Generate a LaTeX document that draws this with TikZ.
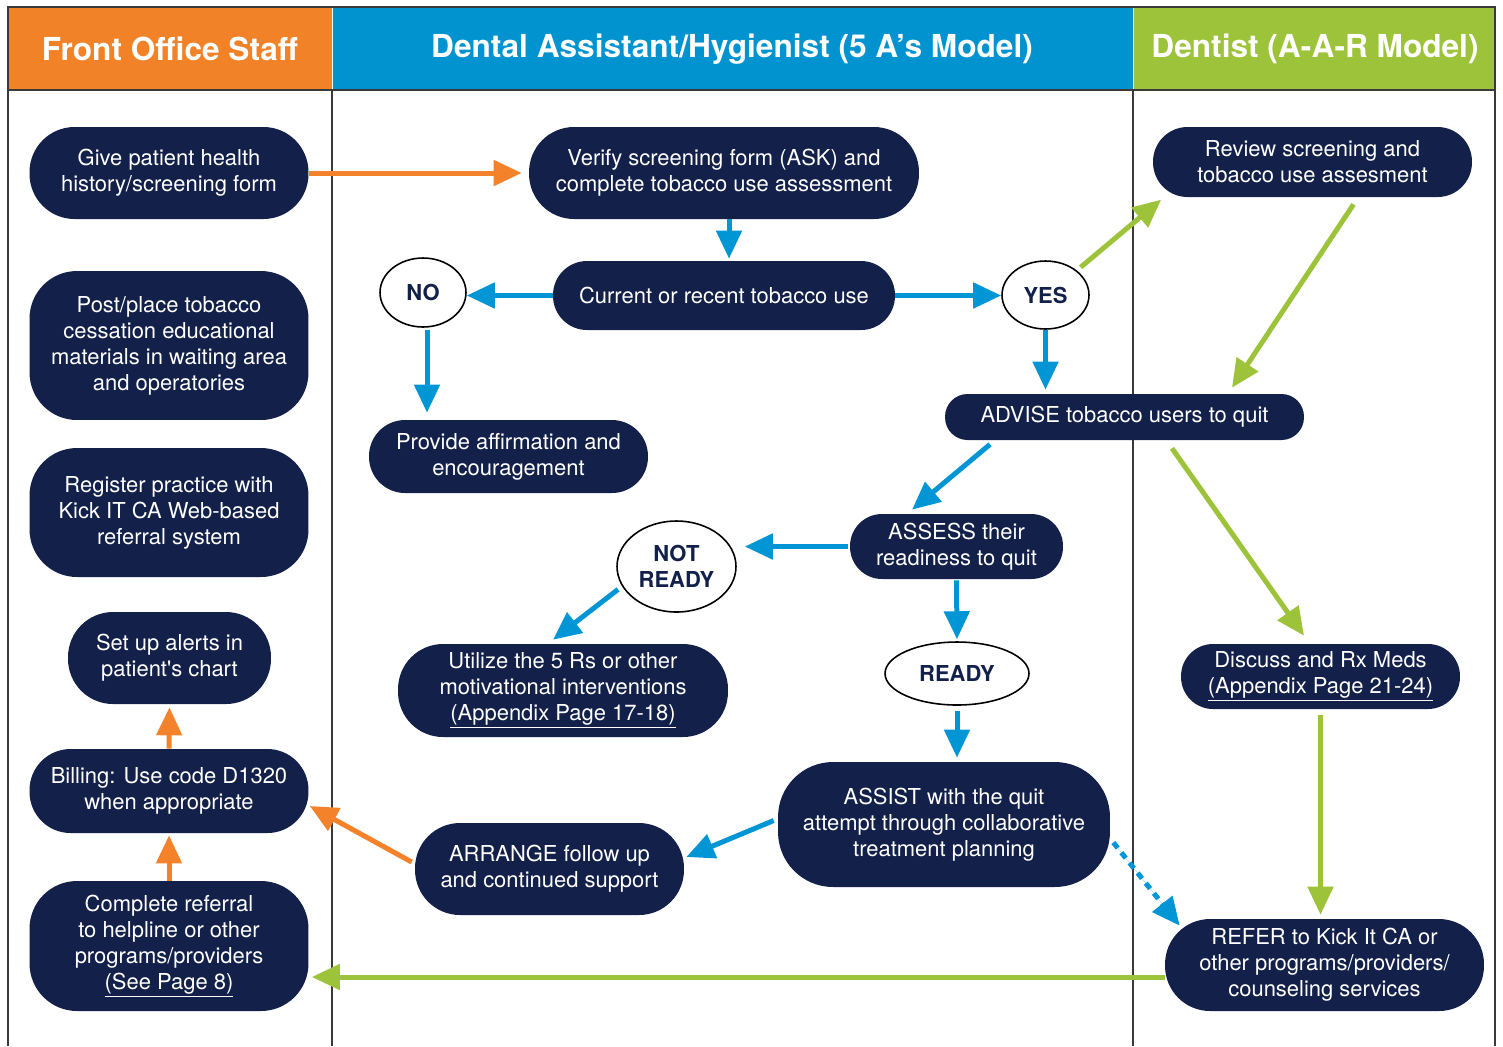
\documentclass[tikz,border=0pt]{standalone}
\usepackage{fontspec}
\setmainfont{TeX Gyre Heros}[Ligatures=TeXOff]
\usetikzlibrary{calc,positioning,arrows.meta,shapes.geometric}

\definecolor{navy}{HTML}{12204A}
\definecolor{hdorange}{HTML}{F28227}
\definecolor{hdblue}{HTML}{0093D0}
\definecolor{hdgreen}{HTML}{9DC33B}
\definecolor{arblue}{HTML}{0096D6}
\definecolor{arorange}{HTML}{F4822A}
\definecolor{framegray}{HTML}{3A3A3A}

\tikzset{
  box/.style={fill=navy, text=white, align=center, inner sep=0pt,
    font=\fontsize{12.5}{14.8}\selectfont},
  choice/.style={ellipse, draw=black, line width=0.9pt, fill=white, text=navy,
    align=center, inner sep=0pt, font=\fontsize{12.5}{14.8}\selectfont\bfseries},
  hdr/.style={text=white, font=\fontsize{18}{21}\selectfont\bfseries},
  frame/.style={draw=framegray, line width=0.7pt},
  flow/.style={line width=0.1cm, -{Triangle[length=0.56cm,width=0.5cm]}},
  barrow/.style={flow, draw=arblue, fill=arblue},
  oarrow/.style={flow, draw=arorange, fill=arorange},
  garrow/.style={flow, draw=hdgreen, fill=hdgreen},
}

\begin{document}
\begin{tikzpicture}[x=0.02cm,y=-0.02cm]
  \useasboundingbox (0,0) rectangle (1503,1046);

  % --------------------
  % Lanes and headers
  % --------------------
  \fill[hdorange] (8,7) rectangle (332,90);
  \fill[hdblue] (332,7) rectangle (1133,90);
  \fill[hdgreen] (1133,7) rectangle (1495,90);
  \draw[white, line width=0.4pt] (332,7) -- (332,90) (1133,7) -- (1133,90);
  \draw[frame] (8,1046) -- (8,7) -- (1495,7) -- (1495,1046);
  \draw[frame] (8,90) -- (1495,90);
  \draw[frame] (332,90) -- (332,1046);
  \draw[frame] (1133,90) -- (1133,1046);

  \node[hdr] (hfront) at (170,49) {Front Office Staff};
  \node[hdr] (hassist) at (732,49) {Dental Assistant/Hygienist (5 A’s Model)};
  \node[hdr] (hdentist) at (1315,49) {Dentist (A-A-R Model)};

  % --------------------
  % Front office lane
  % --------------------
  \node[box, minimum width=5.58cm, minimum height=1.84cm, rounded corners=0.9cm] (give) at (169,173)
    {Give patient health\\history/screening form};
  \node[box, minimum width=5.58cm, minimum height=2.98cm, rounded corners=0.95cm] (post) at (169,345.5)
    {Post/place tobacco\\cessation educational\\materials in waiting area\\and operatories};
  \node[box, minimum width=5.58cm, minimum height=2.58cm, rounded corners=0.95cm] (register) at (169,512.5)
    {Register practice with\\Kick IT CA Web-based\\referral system};
  \node[box, minimum width=4.06cm, minimum height=1.84cm, rounded corners=0.9cm] (alerts) at (169.5,658)
    {Set up alerts in\\patient's chart};
  \node[box, minimum width=5.58cm, minimum height=1.68cm, rounded corners=0.82cm] (billing) at (169,791)
    {Billing: Use code D1320\\when appropriate};
  \node[box, minimum width=5.58cm, minimum height=2.6cm, rounded corners=0.95cm] (complete) at (169,946)
    {Complete referral\\to helpline or other\\programs/providers\\\underline{(See Page 8)}};

  % --------------------
  % Assistant / hygienist lane
  % --------------------
  \node[box, minimum width=7.8cm, minimum height=1.84cm, rounded corners=0.9cm] (verify) at (724,173)
    {Verify screening form (ASK) and\\complete tobacco use assessment};
  \node[box, minimum width=6.84cm, minimum height=1.38cm, rounded corners=0.68cm] (current) at (724,295.5)
    {Current or recent tobacco use};
  \node[choice, minimum width=1.72cm, minimum height=1.38cm] (no) at (423,292.5) {NO};
  \node[choice, minimum width=1.74cm, minimum height=1.36cm] (yes) at (1045.5,295) {YES};
  \node[box, minimum width=5.58cm, minimum height=1.46cm, rounded corners=0.72cm] (affirm) at (508.5,456.5)
    {Provide affirmation and\\encouragement};
  \node[box, minimum width=7.18cm, minimum height=0.92cm, rounded corners=0.45cm] (advise) at (1124.5,417)
    {ADVISE tobacco users to quit};
  \node[box, minimum width=4.26cm, minimum height=1.3cm, rounded corners=0.64cm] (assess) at (956.5,546.5)
    {ASSESS their\\readiness to quit};
  \node[choice, minimum width=2.38cm, minimum height=1.82cm] (notready) at (676.5,566.5) {NOT\\READY};
  \node[box, minimum width=6.6cm, minimum height=1.86cm, rounded corners=0.9cm] (utilize) at (563,690.5)
    {Utilize the 5 Rs or other\\motivational interventions\\\underline{(Appendix Page 17-18)}};
  \node[choice, minimum width=2.88cm, minimum height=1.26cm] (ready) at (957,673.5) {READY};
  \node[box, minimum width=6.64cm, minimum height=2.5cm, rounded corners=1.1cm] (assist) at (944,824.5)
    {ASSIST with the quit\\attempt through collaborative\\treatment planning};
  \node[box, minimum width=5.38cm, minimum height=1.84cm, rounded corners=0.9cm] (arrange) at (549.5,869)
    {ARRANGE follow up\\and continued support};

  % --------------------
  % Dentist lane
  % --------------------
  \node[box, minimum width=6.38cm, minimum height=1.4cm, rounded corners=0.69cm] (review) at (1312.5,162)
    {Review screening and\\tobacco use assesment};
  \node[box, minimum width=5.58cm, minimum height=1.3cm, rounded corners=0.64cm] (discuss) at (1320.5,676.5)
    {Discuss and Rx Meds\\\underline{(Appendix Page 21-24)}};
  \node[box, minimum width=6.38cm, minimum height=1.84cm, rounded corners=0.9cm] (refer) at (1324.5,965)
    {REFER to Kick It CA or\\other programs/providers/\\counseling services};

  % --------------------
  % Connectors
  % --------------------
  \draw[oarrow, shorten >=0.14cm] (give) -- (verify);
  \draw[barrow, shorten >=0.04cm] ([xshift=0.1cm]verify.south) -- ([xshift=0.1cm]current.north);
  \draw[barrow] (current.west) -- (current.west -| no.east);
  \draw[barrow] (current.east) -- (current.east -| yes.west);
  \draw[barrow, shorten <=0.04cm, shorten >=0.14cm] ([xshift=0.08cm]no.south) -- ([xshift=0.08cm]no.south |- affirm.north);
  \draw[barrow, shorten >=0.08cm] (yes.south) -- (yes.south |- advise.north);
  \draw[garrow, shorten <=0.1cm, shorten >=0.04cm] (yes.north east) -- ($(review.south west)+(10,1)$);
  \draw[garrow] ($(review.south)+(41,7)$) -- ($(advise.north)+(107.5,-6)$);
  \draw[barrow] ($(advise.south)+(-134.5,4)$) -- ($(assess.north)+(-44.5,-4)$);
  \draw[garrow] ($(advise.south)+(47.5,8)$) -- ($(discuss.north)+(-16.5,-8)$);
  \draw[barrow, shorten <=0.04cm, shorten >=0.16cm] (assess.west) -- (assess.west -| notready.east);
  \draw[barrow, shorten <=0.1cm] (notready.200) -- ($(utilize.north)+(-10,-4)$);
  \draw[barrow, shorten <=0.02cm, shorten >=0.04cm] (assess.south) -- (ready.north);
  \draw[barrow, shorten <=0.1cm, shorten >=0.08cm] (ready.south) -- (ready.south |- assist.north);
  \draw[barrow] ($(assist.west)+(-4,-4)$) -- ($(arrange.east)+(2,-12)$);
  \draw[oarrow] ($(arrange.west)+(-3,-7)$) -- ($(billing.east)+(1,15)$);
  \draw[barrow, dash pattern=on 0.14cm off 0.12cm] ($(assist.east)+(3,18)$) -- ($(refer.north west)+(15,7)$);
  \draw[garrow, shorten <=0.12cm, shorten >=0.08cm] (discuss.south) -- (discuss.south |- refer.north);
  \coordinate (rl) at ($(refer.west)+(0,12)$);
  \draw[garrow, shorten >=0.06cm] (rl) -- (rl -| complete.east);
  \draw[oarrow, shorten >=0.04cm] (complete.north) -- (billing.south);
  \draw[oarrow, shorten >=0.06cm] (billing.north) -- (alerts.south);

\end{tikzpicture}
\end{document}
